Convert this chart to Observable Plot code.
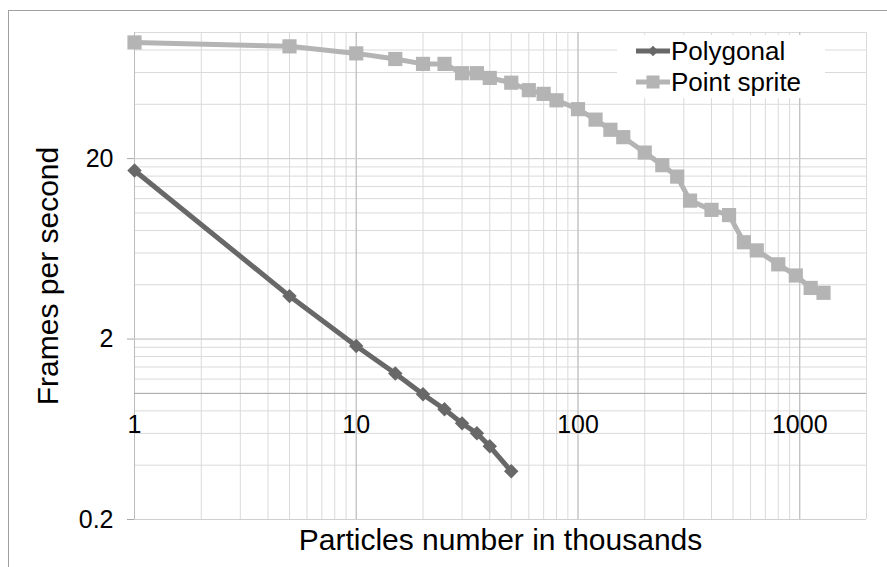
<!DOCTYPE html>
<html>
<head>
<meta charset="utf-8">
<script src="https://cdn.jsdelivr.net/npm/d3@7"></script>
<script src="https://cdn.jsdelivr.net/npm/@observablehq/plot@0.6"></script>
<style>
  html, body { margin: 0; padding: 0; background: #fff; }
  #wrap { position: relative; width: 887px; height: 567px; overflow: hidden; font-family: "Liberation Sans", Arial, sans-serif; }
  #frame { position: absolute; left: 8px; top: 10px; width: 900px; height: 600px; border-left: 1px solid #a0a0a0; border-top: 1px solid #a0a0a0; box-sizing: border-box; pointer-events: none; }
  #legend { position: absolute; left: 617px; top: 35px; width: 208px; height: 63px; background: #fff; }
  #chart svg { display: block; }
</style>
</head>
<body>
<div id="wrap">
  <div id="chart"></div>
  <div id="legend"></div>
  <div id="frame"></div>
</div>
<script>
// ---- data ----
const seriesNames = ["Polygonal", "Point sprite"];
const seriesColors = ["#686868", "#b4b4b4"];

const particlesPolygonal = [1, 5, 10, 15, 20, 25, 30, 35, 40, 50];
const fpsPolygonal = [17.2, 3.46, 1.83, 1.29, 0.988, 0.817, 0.682, 0.601, 0.509, 0.370];

const particlesSprite = [1, 5, 10, 15, 20, 25, 30, 35, 40, 50, 60, 70, 80, 100, 120, 140, 160, 200, 240, 280, 320, 400, 480, 560, 640, 800, 960, 1120, 1280];
const fpsSprite = [88.1, 83.8, 76.6, 71.3, 67.0, 67.0, 59.5, 59.5, 56.0, 52.7, 47.9, 45.7, 42.1, 37.6, 32.9, 28.9, 26.3, 21.6, 18.4, 15.9, 11.7, 10.4, 9.73, 6.88, 6.2, 5.19, 4.5, 3.84, 3.61];

const xTickValues = [1, 10, 100, 1000];
const xTickLabels = ["1", "10", "100", "1000"];
const yTickValues = [0.2, 2, 20];
const yTickLabels = ["0.2", "2", "20"];
const xTitle = "Particles number in thousands";
const yTitle = "Frames per second";

// ---- derived tables ----
const polyData = particlesPolygonal.map((x, i) => ({x, y: fpsPolygonal[i]}));
const spriteData = particlesSprite.map((x, i) => ({x, y: fpsSprite[i]}));

const xMinor = [];
for (const d of [1, 10, 100]) for (let k = 1; k <= 9; k++) xMinor.push(k * d);
xMinor.push(1000, 2000);
const yMinor = [];
for (let k = 1; k <= 9; k++) yMinor.push(+(0.2 * k).toFixed(1));
for (let k = 1; k <= 9; k++) yMinor.push(2 * k);
for (let k = 1; k <= 5; k++) yMinor.push(20 * k);

const chart = Plot.plot({
  width: 887,
  height: 567,
  marginLeft: 134,
  marginRight: 21,
  marginTop: 32,
  marginBottom: 48,
  x: {type: "log", domain: [1, 2000], axis: null},
  y: {type: "log", domain: [0.2, 100], label: null},
  style: {fontFamily: '"Liberation Sans", Arial, sans-serif', fontSize: "25px", color: "#000", background: "transparent"},
  marks: [
    Plot.ruleX(xMinor, {stroke: "#dadada", strokeWidth: 1}),
    Plot.ruleY(yMinor, {stroke: "#dadada", strokeWidth: 1}),
    Plot.ruleX(xTickValues, {stroke: "#bcbcbc", strokeWidth: 1}),
    Plot.ruleY(yTickValues, {stroke: "#cfcfcf", strokeWidth: 1}),
    Plot.ruleY([1], {stroke: "#a8a8a8", strokeWidth: 1}),
    Plot.axisY({ticks: yTickValues, tickFormat: d => yTickLabels[yTickValues.indexOf(d)], label: null, tickSize: 7, tickPadding: 14, stroke: "#a8a8a8", fill: "#000", fontSize: 25}),
    Plot.text(xTickValues, {x: d => d, y: () => 1, text: (d, i) => xTickLabels[i], dy: 32, fontSize: 25, fill: "#000", lineAnchor: "middle"}),
    Plot.text([xTitle], {frameAnchor: "bottom", dy: 21, fontSize: 30, fill: "#000", lineAnchor: "middle", textAnchor: "middle"}),
    Plot.text([yTitle], {frameAnchor: "left", dx: -86, rotate: -90, fontSize: 30, fill: "#000", lineAnchor: "middle", textAnchor: "middle"}),
    Plot.line(polyData, {x: "x", y: "y", stroke: seriesColors[0], strokeWidth: 5}),
    Plot.dot(polyData, {x: "x", y: "y", symbol: "diamond2", r: 6.5, fill: seriesColors[0], stroke: "none"}),
    Plot.line(spriteData, {x: "x", y: "y", stroke: seriesColors[1], strokeWidth: 5}),
    Plot.dot(spriteData, {x: "x", y: "y", symbol: "square", r: 8, fill: seriesColors[1], stroke: "none"})
  ]
});
document.getElementById("chart").appendChild(chart);

// ---- legend ----
const lg = d3.select("#legend").append("svg").attr("width", 208).attr("height", 63);
const rows = [
  {name: seriesNames[0], color: seriesColors[0], sym: d3.symbolDiamond2, size: 70, y: 16},
  {name: seriesNames[1], color: seriesColors[1], sym: d3.symbolSquare, size: 170, y: 47}
];
for (const r of rows) {
  lg.append("line").attr("x1", 19).attr("x2", 53).attr("y1", r.y).attr("y2", r.y)
    .attr("stroke", r.color).attr("stroke-width", 5);
  lg.append("path").attr("d", d3.symbol(r.sym, r.size)()).attr("transform", `translate(36,${r.y})`).attr("fill", r.color);
  lg.append("text").attr("x", 54).attr("y", r.y + 9).attr("font-size", 26)
    .attr("font-family", '"Liberation Sans", Arial, sans-serif').attr("fill", "#000").text(r.name);
}
</script>
</body>
</html>
